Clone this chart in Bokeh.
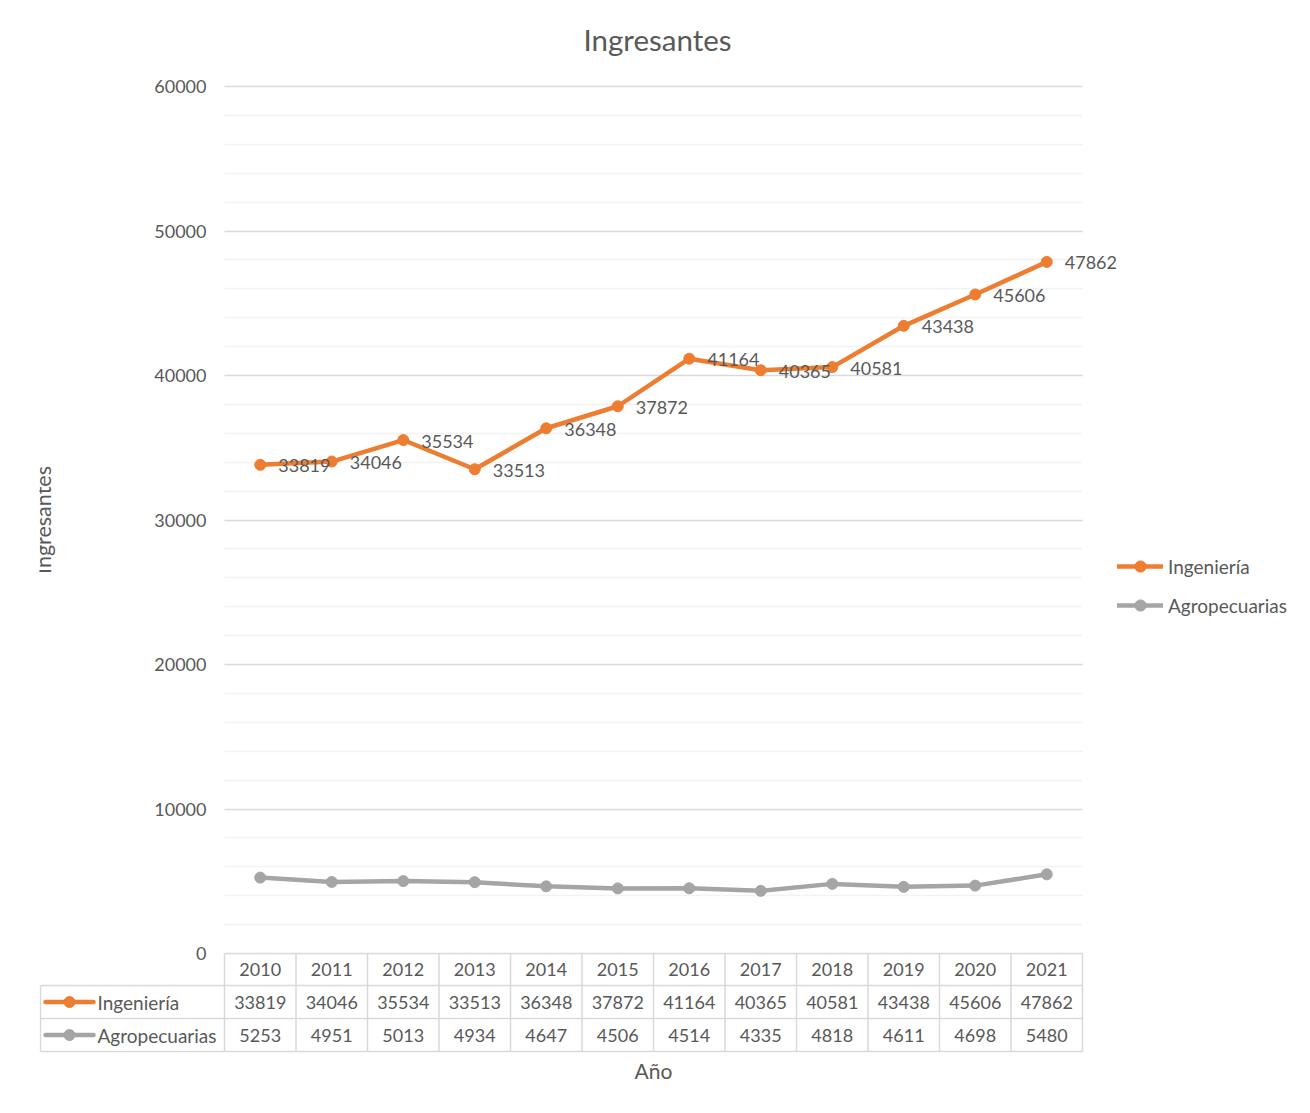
from bokeh.plotting import figure
from bokeh.models import ColumnDataSource, FixedTicker, Range1d, Legend, LegendItem, Grid
from bokeh.core.properties import value
from bokeh.embed import file_html
from bokeh.resources import INLINE

# ---------------- data ----------------
years = ["2010", "2011", "2012", "2013", "2014", "2015",
         "2016", "2017", "2018", "2019", "2020", "2021"]
ingenieria = [33819, 34046, 35534, 33513, 36348, 37872,
              41164, 40365, 40581, 43438, 45606, 47862]
agropecuarias = [5253, 4951, 5013, 4934, 4647, 4506,
                 4514, 4335, 4818, 4611, 4698, 5480]
series_names = ["Ingeniería", "Agropecuarias"]
y_ticks = [0, 10000, 20000, 30000, 40000, 50000, 60000]
y_minor = [v for v in range(0, 60001, 2000) if v % 10000]
title_text = "Ingresantes"
y_label = "Ingresantes"
x_label = "Año"

# ---------------- style ----------------
FONT = "Lato"
TXT = "#595959"
ORANGE = "#ED7D31"
GRAY = "#A5A5A5"
BORDER = "#D9D9D9"
MINOR = "#F2F2F2"
colors = [ORANGE, GRAY]
values = [ingenieria, agropecuarias]
NUM_SIZE = "18px"
NAME_SIZE = "19px"

# ---------------- layout geometry (canvas px) ----------------
W, H = 1294, 1097
FR_L, FR_T, FR_B = 39, 70, 1097          # frame left / top / bottom
TABLE_B = 1052                            # bottom of the data table (axis line)
PLOT_L = 224                              # left edge of category area
CELL = 71.5                               # px per category
LABCOL = 184                              # px width of table label column
Y0_PX, Y60_PX = 953, 86                   # pixel of value 0 and 60000
ROW_PX = [953, 985, 1018, 1051]           # table row boundaries

k = (Y0_PX - Y60_PX) / 60000.0            # px per unit
def py(px):                               # canvas px -> data y
    return (Y0_PX - px) / k
def px2x(px):                             # canvas px -> data x
    return -0.5 + (px - PLOT_L) / CELL

idx = list(range(len(years)))
x_start = px2x(PLOT_L - LABCOL)

p = figure(width=W, height=H, frame_width=W - FR_L, frame_height=FR_B - FR_T,
           min_border_left=FR_L, min_border_right=0,
           min_border_top=FR_T, min_border_bottom=H - FR_B,
           x_range=Range1d(px2x(FR_L), px2x(W)),
           y_range=Range1d(py(FR_B), py(FR_T)),
           toolbar_location=None, output_backend="svg", title=title_text)
p.outline_line_color = None
p.background_fill_color = "white"
p.border_fill_color = "white"

p.title.text_font = FONT
p.title.text_font_size = "29.5px"
p.title.text_font_style = "normal"
p.title.text_color = TXT
p.title.align = "left"
p.title.offset = 583 - FR_L
p.title.standoff = 28

# y axis, drawn at the left edge of the category area
yax = p.yaxis[0]
yax.fixed_location = -0.5
yax.ticker = FixedTicker(ticks=y_ticks)
yax.bounds = (0, 60000)
yax.axis_line_color = None
yax.major_tick_line_color = None
yax.minor_tick_line_color = None
yax.major_tick_out = 0
yax.major_tick_in = 0
yax.major_label_standoff = 18
yax.major_label_text_font = FONT
yax.major_label_text_font_size = NUM_SIZE
yax.major_label_text_color = TXT
yax.axis_label = y_label
yax.axis_label_text_font = FONT
yax.axis_label_text_font_size = "21.5px"
yax.axis_label_text_font_style = "normal"
yax.axis_label_text_color = TXT
yax.axis_label_standoff = 95

# x axis: only the title "Año", centred under the category area
xax = p.xaxis[0]
xax.fixed_location = py(TABLE_B)
xax.ticker = FixedTicker(ticks=[])
xax.bounds = (-0.5, 11.5)
xax.axis_line_color = None
xax.major_tick_line_color = None
xax.minor_tick_line_color = None
xax.major_tick_out = 0
xax.major_tick_in = 0
xax.major_label_standoff = 0
xax.axis_label = x_label
xax.axis_label_text_font = FONT
xax.axis_label_text_font_size = "21px"
xax.axis_label_text_font_style = "normal"
xax.axis_label_text_color = TXT
xax.axis_label_standoff = 5

# grid
p.xgrid.visible = False
if "cross_bounds" in Grid.properties():
    p.ygrid.ticker = FixedTicker(ticks=y_ticks, minor_ticks=y_minor)
    p.ygrid.bounds = (0, 60000)
    p.ygrid.cross_bounds = (-0.5, 11.5)
    p.ygrid.grid_line_color = BORDER
    p.ygrid.grid_line_width = 1.5
    p.ygrid.minor_grid_line_color = MINOR
    p.ygrid.minor_grid_line_width = 1.5
else:
    p.ygrid.visible = False
    p.segment(x0=[-0.5] * len(y_minor), y0=y_minor, x1=[11.5] * len(y_minor), y1=y_minor,
              line_color=MINOR, line_width=1.5)
    p.segment(x0=[-0.5] * len(y_ticks), y0=y_ticks, x1=[11.5] * len(y_ticks), y1=y_ticks,
              line_color=BORDER, line_width=1.5)

src = ColumnDataSource(dict(x=idx, ing=ingenieria, agr=agropecuarias,
                            ing_lab=[str(v) for v in ingenieria]))

r_ing = p.line("x", "ing", source=src, line_color=ORANGE, line_width=4.5,
               line_join="round", line_cap="round")
s_ing = p.scatter("x", "ing", source=src, size=11, fill_color=ORANGE,
                  line_color=ORANGE)
r_agr = p.line("x", "agr", source=src, line_color=GRAY, line_width=4.5,
               line_join="round", line_cap="round")
s_agr = p.scatter("x", "agr", source=src, size=11, fill_color=GRAY,
                  line_color=GRAY)

p.text("x", "ing", text="ing_lab", source=src, x_offset=18, y_offset=1,
       text_align="left", text_baseline="middle",
       text_font=value(FONT), text_font_size=value(NUM_SIZE), text_color=TXT)

# ---------------- data table ----------------
rb = [py(v) for v in ROW_PX]
row_c = [(rb[i] + rb[i + 1]) / 2 for i in range(3)]

# years row
p.text(x=idx, y=[row_c[0]] * len(idx), text=years,
       text_align="center", text_baseline="middle",
       text_font=value(FONT), text_font_size=value(NUM_SIZE), text_color=TXT)

# borders
vx = [i - 0.5 for i in range(len(years) + 1)]
p.segment(x0=vx, y0=[rb[0]] * len(vx), x1=vx, y1=[rb[3]] * len(vx),
          line_color=BORDER, line_width=1.5)
p.segment(x0=[x_start], y0=[rb[1]], x1=[x_start], y1=[rb[3]],
          line_color=BORDER, line_width=1.5)
p.segment(x0=[x_start] * 3, y0=rb[1:], x1=[11.5] * 3, y1=rb[1:],
          line_color=BORDER, line_width=1.5)

for r, (name, vals, col) in enumerate(zip(series_names, values, colors)):
    yc = row_c[r + 1]
    p.text(x=idx, y=[yc] * len(idx), text=[str(v) for v in vals],
           text_align="center", text_baseline="middle",
           text_font=value(FONT), text_font_size=value(NUM_SIZE), text_color=TXT)
    p.segment(x0=[x_start + 5 / CELL], y0=[yc], x1=[x_start + 53 / CELL], y1=[yc],
              line_color=col, line_width=4.5, line_cap="round")
    p.scatter(x=[x_start + 29 / CELL], y=[yc], size=11, fill_color=col, line_color=col)
    p.text(x=[x_start + 57 / CELL], y=[yc], text=[name],
           text_align="left", text_baseline="middle",
           text_font=value(FONT), text_font_size=value(NAME_SIZE), text_color=TXT)

# ---------------- legend ----------------
legend = Legend(items=[LegendItem(label=series_names[0], renderers=[r_ing, s_ing]),
                       LegendItem(label=series_names[1], renderers=[r_agr, s_agr])],
                location=(1117 - FR_L, FR_B - 619), orientation="vertical",
                glyph_width=46, glyph_height=28, label_height=20,
                label_standoff=5, spacing=11, padding=0, margin=0,
                border_line_color=None, background_fill_alpha=0,
                label_text_font=FONT, label_text_font_size=NAME_SIZE,
                label_text_color=TXT)
p.add_layout(legend)

with open("out.html", "w", encoding="utf-8") as f:
    f.write(file_html(p, INLINE))
